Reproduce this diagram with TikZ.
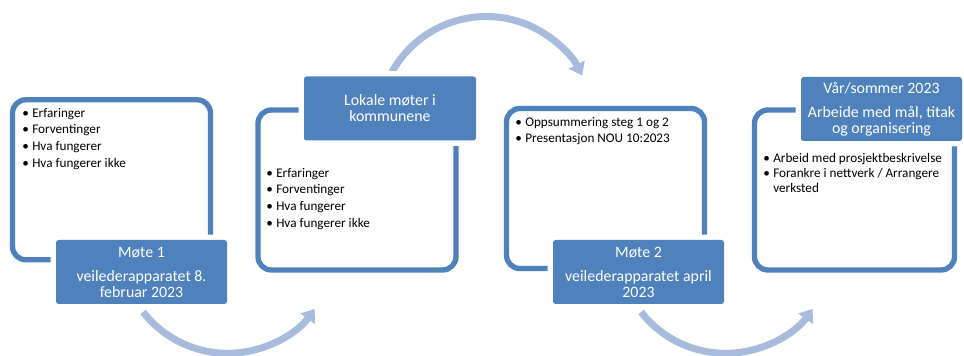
\documentclass[tikz,border=0pt]{standalone}
\usepackage{fontspec}
\setmainfont{Carlito}
\usetikzlibrary{arrows.meta}
\definecolor{smartblue}{RGB}{79,129,189}
\definecolor{arrowblue}{RGB}{167,187,220}
\tikzset{framebox/.style={rectangle, draw=smartblue, line width=4pt, rounded corners=10pt, minimum width=148.5pt, minimum height=120pt}}
\tikzset{stepbox/.style={rectangle, fill=smartblue, text=white, rounded corners=2pt, preaction={draw=white, line width=8pt}, minimum height=48pt, align=center, font=\fontsize{11.9}{12}\selectfont}}
\tikzset{bulletlist/.style={anchor=base west, inner sep=0pt, font=\fontsize{9.9}{12.5}\selectfont}}
\tikzset{cyclearrow/.style={draw=arrowblue, line width=5.25pt, -{Triangle[width=13pt,length=9pt]}}}
\newcommand{\itm}{\makebox[7.5pt][l]{\textbullet}}

\begin{document}
\begin{tikzpicture}[x=0.75pt, y=0.75pt]
    \useasboundingbox (0,0) rectangle (964,356);

    \coordinate (start1) at (143,44);
    \coordinate (start2) at (392,284);
    \coordinate (start3) at (641,44);
    \draw[cyclearrow] (start1) arc[start angle=218, end angle=324, radius=107.5];
    \draw[cyclearrow] (start2) arc[start angle=151, end angle=27, radius=107.7];
    \draw[cyclearrow] (start3) arc[start angle=218, end angle=324, radius=107.5];

    \node[framebox] (frame1) at (111.5,176.2) {};
    \node[framebox] (frame2) at (357,166)     {};
    \node[framebox] (frame3) at (605.5,167.5) {};
    \node[framebox, minimum width=150pt] (frame4) at (854.5,166) {};

    \node[stepbox, minimum width=128.25pt] (meeting1) at (141.5,84)  {Møte 1\\[6pt] veilederapparatet 8.\\ februar 2023};
    \node[stepbox, minimum width=129pt]    (local)    at (390,247.5) {Lokale møter i\\ kommunene};
    \node[stepbox, minimum width=128.25pt] (meeting2) at (638.5,84)  {Møte 2\\[6pt] veilederapparatet april\\ 2023};
    \node[stepbox, minimum width=120.75pt] (spring)   at (881.5,247) {Vår/sommer 2023\\[6pt] Arbeide med mål, titak\\ og organisering};

    \node[bulletlist] (list1) at (22,238.7) {\begin{tabular}[t]{@{}l@{}}\itm Erfaringer\\ \itm Forventinger\\ \itm Hva fungerer\\ \itm Hva fungerer ikke\end{tabular}};
    \node[bulletlist] (list2) at (266,178.7) {\begin{tabular}[t]{@{}l@{}}\itm Erfaringer\\ \itm Forventinger\\ \itm Hva fungerer\\ \itm Hva fungerer ikke\end{tabular}};
    \node[bulletlist] (list3) at (515,229.7) {\begin{tabular}[t]{@{}l@{}}\itm Oppsummering steg 1 og 2\\ \itm Presentasjon NOU 10:2023\end{tabular}};
    \node[bulletlist, font=\fontsize{9.9}{11.25}\selectfont] (list4) at (763,193.7) {\begin{tabular}[t]{@{}l@{}}\itm Arbeid med prosjektbeskrivelse\\ \itm Forankre i nettverk / Arrangere\\ \phantom{\itm}verksted\end{tabular}};
\end{tikzpicture}
\end{document}
